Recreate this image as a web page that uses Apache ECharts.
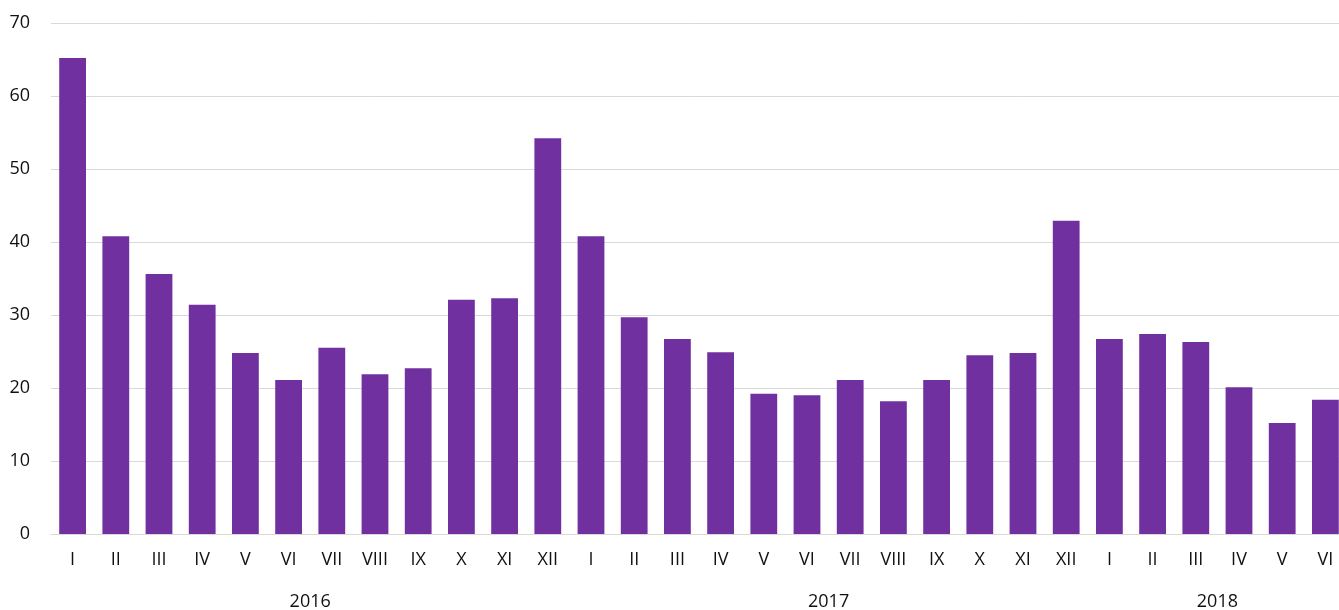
<!DOCTYPE html>
<html><head><meta charset="utf-8">
<script src="https://cdn.jsdelivr.net/npm/echarts@6/dist/echarts.min.js"></script>
<style>html,body{margin:0;padding:0;background:#fff}#c{width:1339px;height:610px}</style>
</head><body><div id="c"></div>
<script>
const months = ['I','II','III','IV','V','VI','VII','VIII','IX','X','XI','XII',
                'I','II','III','IV','V','VI','VII','VIII','IX','X','XI','XII',
                'I','II','III','IV','V','VI'];
const values = [65.2,40.8,35.6,31.4,24.8,21.1,25.5,21.9,22.7,32.1,32.3,54.2,
                40.8,29.7,26.7,24.9,19.2,19.0,21.1,18.2,21.1,24.5,24.8,42.9,
                26.7,27.4,26.3,20.1,15.2,18.4];
const years = ['2016','2017','2018'];
const yearCenters = [6,18,27];
const yTicks = [0,10,20,30,40,50,60,70];

const font = 'Open Sans';
const chart = echarts.init(document.getElementById('c'));
chart.setOption({
  animation:false,
  grid:{left:51,width:1296,top:23,height:511,containLabel:false,outerBoundsMode:'none'},
  xAxis:[{
    type:'category',data:months,
    axisLine:{lineStyle:{color:'#d9d9d9',width:1}},
    axisTick:{show:false},
    axisLabel:{color:'#111',fontSize:18,fontFamily:font,margin:17}
  },{
    type:'value',min:0,max:30,interval:3,position:'bottom',offset:42,
    axisLine:{show:false},axisTick:{show:false},splitLine:{show:false},
    axisLabel:{color:'#111',fontSize:18,fontFamily:font,margin:17,
      showMinLabel:true,showMaxLabel:true,
      formatter:v=>{const i=yearCenters.indexOf(v);return i>=0?years[i]:'';}}
  }],
  yAxis:{type:'value',min:yTicks[0],max:yTicks[yTicks.length-1],interval:10,
    axisLine:{show:false},axisTick:{show:false},
    splitLine:{lineStyle:{color:'#d9d9d9',width:1}},
    axisLabel:{color:'#111',fontSize:18,fontFamily:font,margin:21,align:'right'}
  },
  series:[{type:'bar',data:values,xAxisIndex:0,barCategoryGap:'38%',
    itemStyle:{color:'#7030a0'}}]
});
</script></body></html>
